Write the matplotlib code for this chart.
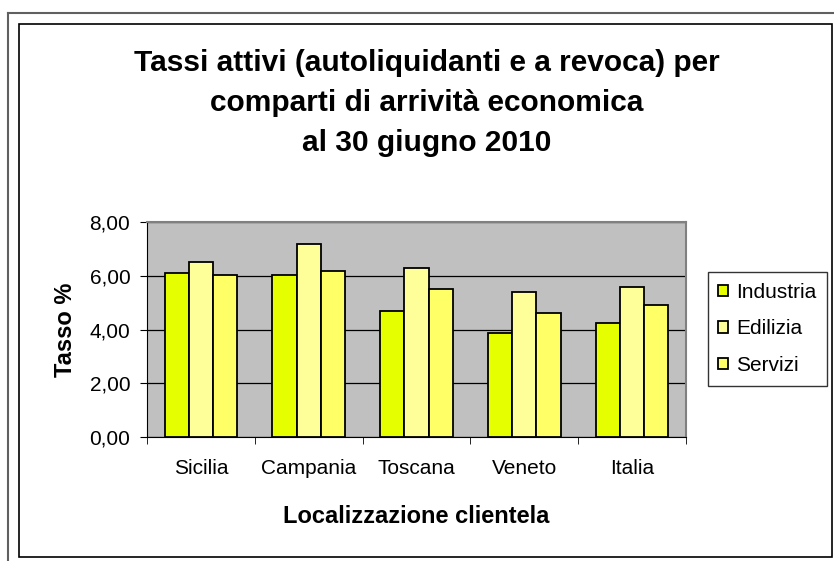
import numpy as np
import matplotlib.pyplot as plt
from matplotlib.patches import Rectangle

plt.rcParams['font.family'] = ['Liberation Sans', 'DejaVu Sans']

# data
regioni = ['Sicilia', 'Campania', 'Toscana', 'Veneto', 'Italia']
industria = [6.12, 6.04, 4.70, 3.88, 4.25]
edilizia = [6.50, 7.18, 6.27, 5.39, 5.60]
servizi = [6.04, 6.19, 5.52, 4.63, 4.93]
serie = ['Industria', 'Edilizia', 'Servizi']
colori = ['#E5FF00', '#FFFF99', '#FFFF66']

fig = plt.figure(figsize=(8.34, 5.61), dpi=100)

# page frame and chart frame
fig.add_artist(plt.Line2D([8/834, 8/834], [0, 1 - 13/561], color='#606060', lw=1.5))
fig.add_artist(plt.Line2D([8/834, 1], [1 - 13/561, 1 - 13/561], color='#606060', lw=1.5))
fig.add_artist(Rectangle((19/834, 1 - 557/561), (832 - 19)/834, (557 - 24)/561,
                         fill=False, ec='black', lw=1.2, transform=fig.transFigure))

ax = fig.add_axes([147/834, 1 - 437/561, (686 - 147)/834, (437 - 222)/561])
ax.set_facecolor('#C0C0C0')

x = np.arange(len(regioni))
w = 0.224
for i, (vals, nome) in enumerate(zip([industria, edilizia, servizi], serie)):
    ax.bar(x + (i - 1) * w, vals, w, color=colori[i], edgecolor='black',
           linewidth=1.3, label=nome, zorder=3)

ax.set_xlim(-0.5, len(regioni) - 0.5)
ax.set_ylim(0, 8)
ax.set_yticks([0, 2, 4, 6, 8])
ax.set_yticklabels(['0,00', '2,00', '4,00', '6,00', '8,00'], fontsize=15)
ax.yaxis.grid(True, color='black', lw=0.9, zorder=1)
ax.set_axisbelow(True)

ax.set_xticks(x)
ax.set_xticklabels(regioni, fontsize=15)
ax.tick_params(axis='x', length=0, pad=16)
ax.set_xticks(np.arange(len(regioni) + 1) - 0.5, minor=True)
ax.tick_params(axis='x', which='minor', length=5, color='black')
ax.tick_params(axis='y', length=5, color='black', pad=7)

for s in ['top', 'right']:
    ax.spines[s].set_color('#808080')
    ax.spines[s].set_linewidth(1.5)
for s in ['left', 'bottom']:
    ax.spines[s].set_color('black')

ax.set_xlabel('Localizzazione clientela', fontsize=17, fontweight='bold', labelpad=19)
ax.set_ylabel('Tasso %', fontsize=17, fontweight='bold', labelpad=9)

fig.text(427/834, 1 - 103/561,
         'Tassi attivi (autoliquidanti e a revoca) per\ncomparti di arrività economica\nal 30 giugno 2010',
         ha='center', va='center', fontsize=21.5, fontweight='bold', linespacing=1.55)

leg = ax.legend(loc='center left', bbox_to_anchor=(708/834, 1 - 329/561),
                bbox_transform=fig.transFigure, fontsize=15, frameon=True,
                fancybox=False, edgecolor='black', handlelength=0.45,
                handleheight=0.45, handletextpad=0.4, labelspacing=0.85,
                borderpad=0.5, borderaxespad=0)
leg.get_frame().set_linewidth(1.0)

fig.savefig('out.png', dpi=100)
